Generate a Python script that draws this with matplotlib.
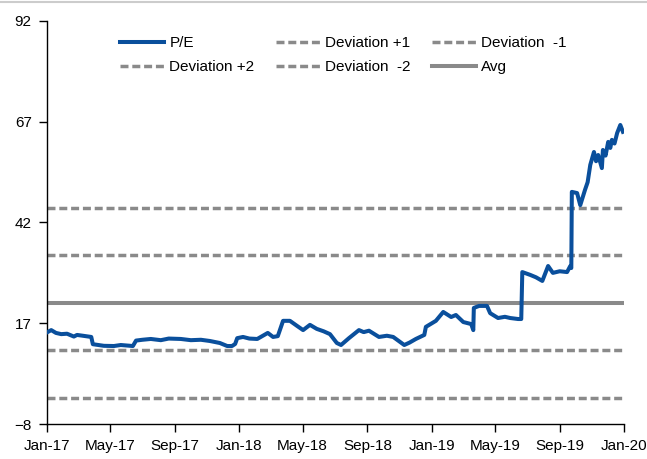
import numpy as np
import pandas as pd
import matplotlib
matplotlib.use("Agg")
import matplotlib.pyplot as plt
import matplotlib.dates as mdates
from matplotlib.lines import Line2D

plt.rcParams['font.family'] = ['Liberation Sans', 'DejaVu Sans']

# datos
fechas = ["2017-01-02", "2017-01-09", "2017-01-18", "2017-01-28", "2017-02-08", "2017-02-21",
          "2017-02-27", "2017-03-10", "2017-03-26", "2017-03-29", "2017-04-19", "2017-05-08",
          "2017-05-21", "2017-06-13", "2017-06-19", "2017-07-01", "2017-07-17", "2017-08-05",
          "2017-08-20", "2017-09-12", "2017-10-01", "2017-10-20", "2017-11-06", "2017-11-25",
          "2017-12-09", "2017-12-18", "2017-12-24", "2017-12-28", "2018-01-08", "2018-01-20",
          "2018-02-04", "2018-02-24", "2018-03-06", "2018-03-15", "2018-03-25", "2018-04-07",
          "2018-04-21", "2018-05-02", "2018-05-15", "2018-05-28", "2018-06-10", "2018-06-22",
          "2018-07-05", "2018-07-13", "2018-07-28", "2018-08-16", "2018-08-25", "2018-09-04",
          "2018-09-23", "2018-10-08", "2018-10-20", "2018-11-10", "2018-11-20", "2018-12-02",
          "2018-12-18", "2018-12-21", "2019-01-09", "2019-01-23", "2019-02-07", "2019-02-16",
          "2019-03-02", "2019-03-17", "2019-03-21", "2019-03-22", "2019-04-01", "2019-04-16",
          "2019-04-22", "2019-05-07", "2019-05-20", "2019-05-30", "2019-06-14", "2019-06-20",
          "2019-06-22", "2019-07-07", "2019-07-18", "2019-07-30", "2019-08-10", "2019-08-19",
          "2019-09-01", "2019-09-15", "2019-09-21", "2019-09-23", "2019-09-24", "2019-10-04",
          "2019-10-10", "2019-10-19", "2019-10-24", "2019-10-29", "2019-11-05", "2019-11-09",
          "2019-11-13", "2019-11-20", "2019-11-22", "2019-11-27", "2019-12-02", "2019-12-06",
          "2019-12-09", "2019-12-14", "2019-12-19", "2019-12-25", "2019-12-30"]
pe = [14.8, 15.3, 14.6, 14.3, 14.4, 13.7,
      14.1, 13.9, 13.6, 11.8, 11.4, 11.35,
      11.6, 11.35, 12.7, 12.9, 13.1, 12.8,
      13.2, 13.1, 12.8, 12.9, 12.6, 12.1,
      11.35, 11.35, 11.85, 13.3, 13.6, 13.2,
      13.1, 14.6, 13.6, 13.8, 17.6, 17.6,
      16.3, 15.3, 16.6, 15.6, 15.0, 14.3,
      12.1, 11.6, 13.3, 15.3, 14.8, 15.15,
      13.6, 13.9, 13.6, 11.6, 12.2, 13.1,
      14.1, 16.1, 17.6, 19.8, 18.55, 19.05,
      17.3, 16.8, 15.3, 20.8, 21.3, 21.3,
      19.5, 18.3, 18.6, 18.3, 18.05, 18.05,
      29.7, 29.0, 28.4, 27.5, 31.2, 29.5,
      29.9, 29.7, 31.2, 30.7, 49.6, 49.3,
      46.3, 50.1, 52.0, 56.3, 59.5, 57.2,
      58.75, 55.5, 60.0, 58.6, 62.0, 60.5,
      62.5, 61.6, 64.2, 66.2, 64.5]

promedio = 22.1
desvio = 11.8

serie = pd.Series(pe, index=pd.to_datetime(fechas))

fig = plt.figure(figsize=(6.47, 4.59), dpi=100)
ax = fig.add_axes([47/647, 35/459, 577/647, 403/459])

gris = '#8a8a8a'
guiones = (0, (2.3, 1.1))
x0, x1 = pd.Timestamp("2017-01-01"), pd.Timestamp("2020-01-01")

l_pe, = ax.plot(serie.index, serie.values, color='#0a4f9c', lw=2.9, label='P/E', zorder=5)
l_p2 = ax.axhline(promedio + 2*desvio, color=gris, lw=2.5, ls=guiones, label='Deviation +2')
l_p1 = ax.axhline(promedio + desvio, color=gris, lw=2.5, ls=guiones, label='Deviation +1')
l_m2 = ax.axhline(promedio - 2*desvio, color=gris, lw=2.5, ls=guiones, label='Deviation  -2')
l_m1 = ax.axhline(promedio - desvio, color=gris, lw=2.5, ls=guiones, label='Deviation  -1')
l_avg = ax.axhline(promedio, color=gris, lw=2.9, label='Avg')

ax.set_xlim(x0, x1)
ax.set_ylim(-8, 92)
ax.set_yticks([-8, 17, 42, 67, 92])
ax.xaxis.set_major_locator(mdates.MonthLocator(bymonth=[1, 5, 9]))
ax.xaxis.set_major_formatter(mdates.DateFormatter('%b-%y'))

for lado in ['top', 'right']:
    ax.spines[lado].set_visible(False)
for lado in ['left', 'bottom']:
    ax.spines[lado].set_linewidth(1.0)
ax.tick_params(axis='both', labelsize=11, length=6, width=1.0, direction='out', pad=5)

ax.legend(handles=[l_pe, l_p2, l_p1, l_m2, l_m1, l_avg], ncol=3, frameon=False,
          fontsize=11, loc='upper left', bbox_to_anchor=(120/647, 1 - 36/459),
          bbox_transform=fig.transFigure, borderpad=0, borderaxespad=0,
          handlelength=2.9, handletextpad=0.33, columnspacing=1.4, labelspacing=0.68)

fig.add_artist(Line2D([0, 1], [1 - 1.5/459, 1 - 1.5/459], color='#cccccc', lw=1.5,
                      transform=fig.transFigure))

fig.savefig('out.png', dpi=100)
